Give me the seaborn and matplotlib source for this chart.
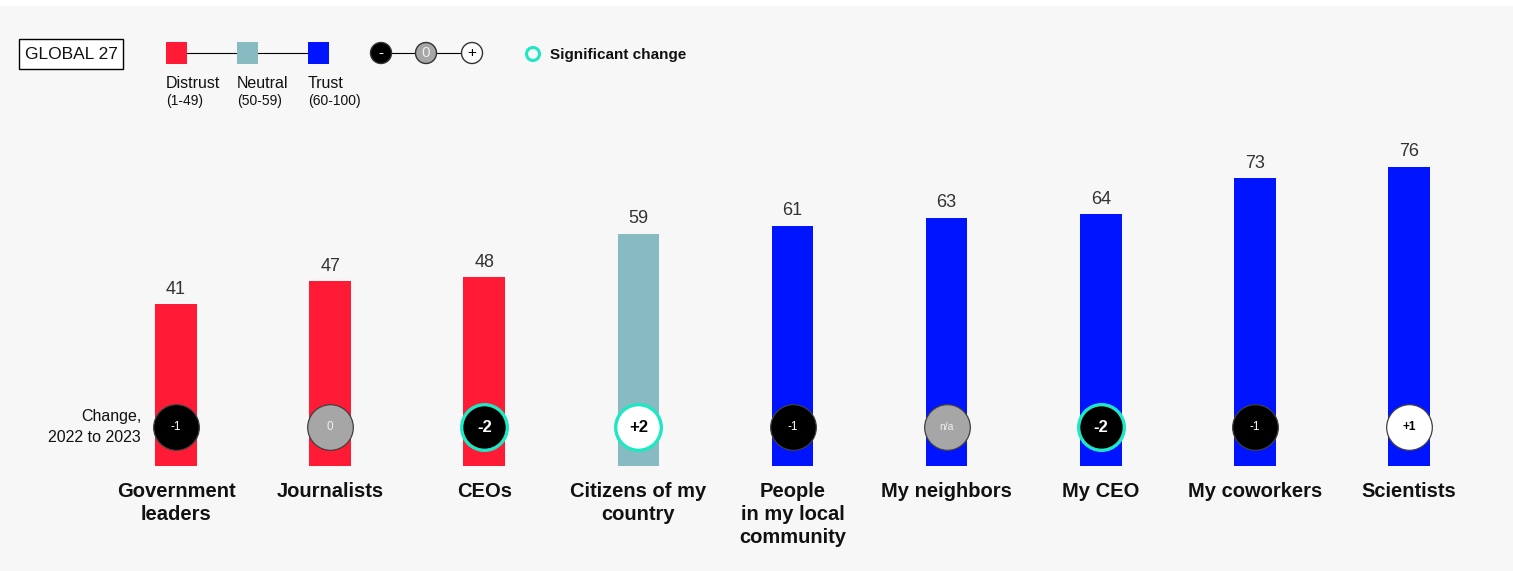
import matplotlib
matplotlib.use('Agg')
import matplotlib.pyplot as plt
from matplotlib.patches import Rectangle, Circle
import pandas as pd
import seaborn as sns

# --- データ ---
CATEGORIES = ['Government\nleaders', 'Journalists', 'CEOs', 'Citizens of my\ncountry',
              'People\nin my local\ncommunity', 'My neighbors', 'My CEO',
              'My coworkers', 'Scientists']
TRUST = [41, 47, 48, 59, 61, 63, 64, 73, 76]
CHANGE = ['-1', '0', '-2', '+2', '-1', 'n/a', '-2', '-1', '+1']
SIGNIFICANT = [False, False, True, True, False, False, True, False, False]

# --- 色 ---
RED = '#FF1A35'
TEAL = '#88BAC1'
BLUE = '#0014FF'
RING = '#1EE8C4'
GRAY = '#A6A6A6'
BG = '#F7F7F7'

W, H = 1513, 571


def trust_color(v):
    if v < 50:
        return RED
    if v < 60:
        return TEAL
    return BLUE


def change_style(c):
    # (塗り, 文字色)
    if c in ('0', 'n/a'):
        return GRAY, '#F0F0F0'
    if c.startswith('-'):
        return 'black', 'white'
    return 'white', 'black'


sns.set_style('white')
plt.rcParams['font.family'] = ['Liberation Sans', 'DejaVu Sans']

fig = plt.figure(figsize=(W / 100, H / 100), dpi=100)
fig.patch.set_facecolor(BG)
fig.add_artist(Rectangle((0, 1 - 6 / H), 1, 6 / H, transform=fig.transFigure,
                         facecolor='white', edgecolor='none'))

# --- メインの棒グラフ (全体に広げた軸) ---
ax = fig.add_axes([0, 0, 1, 1])
ax.set_facecolor('none')

df = pd.DataFrame({'category': CATEGORIES, 'trust': TRUST})
palette = {c: trust_color(v) for c, v in zip(CATEGORIES, TRUST)}
sns.barplot(data=df, x='category', y='trust', hue='category', palette=palette,
            dodge=False, legend=False, width=0.27, saturation=1, ax=ax,
            linewidth=0)

step = 154.125      # 棒の間隔 (px)
x0 = 176            # 最初の棒の中心 (px)
base = 105          # 0 の位置 (下から px)
unit = 3.94         # 1 あたりの px
ax.set_xlim(-x0 / step, (W - x0) / step)
ax.set_ylim(-base / unit, (H - base) / unit)
ax.axis('off')

circle_y = (466 - 427) / unit
for i, (v, c, sig) in enumerate(zip(TRUST, CHANGE, SIGNIFICANT)):
    ax.text(i, v + 1.6, str(v), ha='center', va='bottom', fontsize=13,
            color='#333333')
    fill, tc = change_style(c)
    ax.scatter([i], [circle_y], s=1080, c=fill,
               edgecolors=RING if sig else '#404040',
               linewidths=2.4 if sig else 0.9, zorder=3)
    ax.text(i, circle_y, c, ha='center', va='center', zorder=4, color=tc,
            fontsize=12 if sig else (7.5 if c == 'n/a' else 8.5),
            fontweight='bold' if sig or c == '+1' else 'normal')
    ax.text(i, -4.0, CATEGORIES[i], ha='center', va='top', fontsize=14.5,
            fontweight='bold', color='#111111', linespacing=1.28)

ax.text((141 - x0) / step, circle_y, 'Change,\n2022 to 2023', ha='right',
        va='center', fontsize=11.5, color='#111111', linespacing=1.5)

# --- 凡例 (ピクセル座標の重ね軸) ---
lg = fig.add_axes([0, 0, 1, 1])
lg.set_xlim(0, W)
lg.set_ylim(H, 0)
lg.axis('off')

lg.add_patch(Rectangle((19, 39), 104, 30, facecolor='white', edgecolor='black',
                       linewidth=1))
lg.text(71, 54.5, 'GLOBAL 27', ha='center', va='center', fontsize=12.5,
        color='#111111')

lg.plot([176, 319], [53, 53], color='black', linewidth=0.8)
for x, col, name, rng in [(166, RED, 'Distrust', '(1-49)'),
                          (237, TEAL, 'Neutral', '(50-59)'),
                          (308, BLUE, 'Trust', '(60-100)')]:
    lg.add_patch(Rectangle((x, 42), 21, 22, facecolor=col, edgecolor='none',
                           zorder=3))
    lg.text(x, 84, name, ha='left', va='center', fontsize=11.5,
            color='#111111')
    lg.text(x, 101, rng, ha='left', va='center', fontsize=10,
            color='#111111')

lg.plot([381, 472], [53, 53], color='black', linewidth=0.8)
for x, fill, sym, tc in [(381, 'black', '-', 'white'),
                         (426, GRAY, '0', '#EEEEEE'),
                         (472, 'white', '+', 'black')]:
    lg.add_patch(Circle((x, 53), 10.5, facecolor=fill, edgecolor='#333333',
                        linewidth=1, zorder=3))
    lg.text(x, 53, sym, ha='center', va='center', fontsize=11, color=tc,
            zorder=4)

lg.add_patch(Circle((533, 54), 6.5, facecolor='none', edgecolor=RING,
                    linewidth=2.2))
lg.text(550, 54.5, 'Significant change', ha='left', va='center', fontsize=11,
        fontweight='bold', color='#111111')

fig.savefig('out.png', dpi=100, facecolor=fig.get_facecolor())
